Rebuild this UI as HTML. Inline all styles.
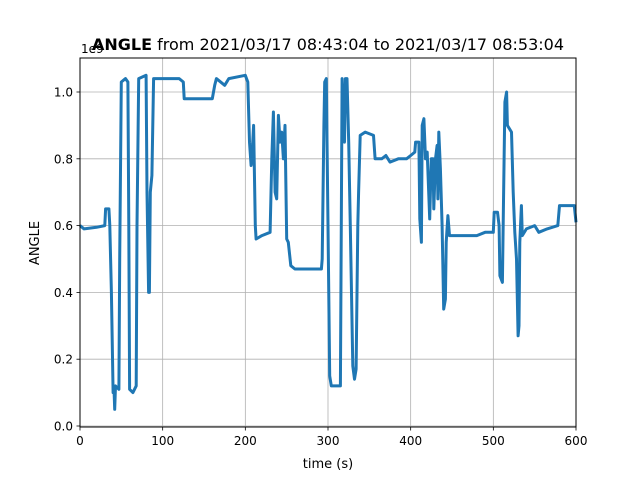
<!DOCTYPE html>
<html><head><meta charset="utf-8"><style>
body{margin:0;background:#fff}
svg{font-family:"DejaVu Sans","Liberation Sans",sans-serif}
</style></head><body>
<svg width="640" height="480" viewBox="0 0 640 480">
<rect width="640" height="480" fill="#fff"/>
<g id="grid"></g>
<g id="ticks"></g>
<path id="series" fill="none" stroke="#1f77b4" stroke-width="3" stroke-linejoin="round"/>
<rect x="80" y="58" width="496" height="369" fill="none" stroke="#000" stroke-width="1"/>
<text x="328" y="50" text-anchor="middle" font-size="16"><tspan font-weight="bold">ANGLE</tspan> from 2021/03/17 08:43:04 to 2021/03/17 08:53:04</text>
<text x="81" y="53" font-size="12">1e9</text>
<text x="328" y="468" text-anchor="middle" font-size="13">time (s)</text>
<text x="39" y="243" text-anchor="middle" font-size="13" transform="rotate(-90 39 243)">ANGLE</text>
</svg>
<script>
const times=[0,5,20,30,31,35,36,38,40,41,42,43,47,48,50,55,58,59,60,64,68,69,71,80,81,83,84,85,87,89,100,120,125,126,140,160,163,165,175,180,200,203,205,207,208,210,212,213,220,230,232,234,236,238,240,242,244,246,248,250,252,255,260,280,292,293,295,296,298,300,302,304,315,317,320,321,323,325,327,330,332,334,336,337,339,345,355,357,365,370,375,385,395,400,405,406,410,411,413,414,416,418,420,423,425,427,428,430,432,433,434,436,438,440,442,443,445,447,460,480,490,500,501,505,507,508,511,512,514,516,517,522,524,526,528,530,531,532,534,535,540,550,555,565,578,580,590,598,600];
const values=[0.6,0.59,0.595,0.6,0.65,0.65,0.6,0.4,0.1,0.12,0.05,0.12,0.11,0.5,1.03,1.04,1.03,0.6,0.11,0.1,0.12,0.6,1.04,1.05,0.7,0.4,0.4,0.7,0.75,1.04,1.04,1.04,1.03,0.98,0.98,0.98,1.02,1.04,1.02,1.04,1.05,1.03,0.85,0.78,0.8,0.9,0.6,0.56,0.57,0.58,0.8,0.94,0.7,0.68,0.93,0.85,0.88,0.8,0.9,0.56,0.55,0.48,0.47,0.47,0.47,0.5,0.9,1.03,1.04,0.6,0.15,0.12,0.12,1.04,0.85,1.04,1.04,0.85,0.6,0.18,0.14,0.17,0.6,0.7,0.87,0.88,0.87,0.8,0.8,0.81,0.79,0.8,0.8,0.81,0.82,0.85,0.85,0.62,0.55,0.9,0.92,0.8,0.82,0.62,0.8,0.8,0.65,0.8,0.84,0.68,0.88,0.77,0.6,0.35,0.38,0.55,0.63,0.57,0.57,0.57,0.58,0.58,0.64,0.64,0.6,0.45,0.43,0.63,0.97,1.0,0.9,0.88,0.7,0.58,0.5,0.27,0.3,0.55,0.66,0.57,0.59,0.6,0.58,0.59,0.6,0.66,0.66,0.66,0.61];
const xTicks=[0,100,200,300,400,500,600];
const yTicks=[0.0,0.2,0.4,0.6,0.8,1.0];
const yTickLabels=["0.0","0.2","0.4","0.6","0.8","1.0"];
const X0=80,X1=576,XMIN=0,XMAX=600;
const Y0=426,YPER=334;
function xs(t){return X0+(t-XMIN)/(XMAX-XMIN)*(X1-X0);}
function ys(v){return Y0-v*YPER;}
const NS="http://www.w3.org/2000/svg";
const grid=document.getElementById('grid'),ticks=document.getElementById('ticks');
function mk(tag,attrs,parent){const e=document.createElementNS(NS,tag);for(const k in attrs)e.setAttribute(k,attrs[k]);parent.appendChild(e);return e;}
xTicks.forEach(t=>{const x=xs(t);
 const g=mk('line',{x1:x,x2:x,y1:58,y2:427,stroke:'#b0b0b0','stroke-width':0.8},grid);
 
 
 const tk=mk('line',{x1:x,x2:x,y1:427,y2:430.5,stroke:'#000','stroke-width':0.8},ticks);
 
 
 const tx=mk('text',{x:x,y:445,'text-anchor':'middle','font-size':12},ticks);tx.textContent=t;
 
 
});
yTicks.forEach((v,i)=>{const y=ys(v);
 const g=mk('line',{x1:80,x2:576,y1:y,y2:y,stroke:'#b0b0b0','stroke-width':0.8},grid);
 
 
 const tk=mk('line',{x1:76.5,x2:80,y1:y,y2:y,stroke:'#000','stroke-width':0.8},ticks);
 
 
 const tx=mk('text',{x:73,y:y+4.5,'text-anchor':'end','font-size':12},ticks);tx.textContent=yTickLabels[i];
 
 
});
document.getElementById('series').setAttribute('d',times.map((t,i)=>(i?'L':'M')+xs(t).toFixed(1)+' '+ys(values[i]).toFixed(1)).join(' '));
</script>
</body></html>
